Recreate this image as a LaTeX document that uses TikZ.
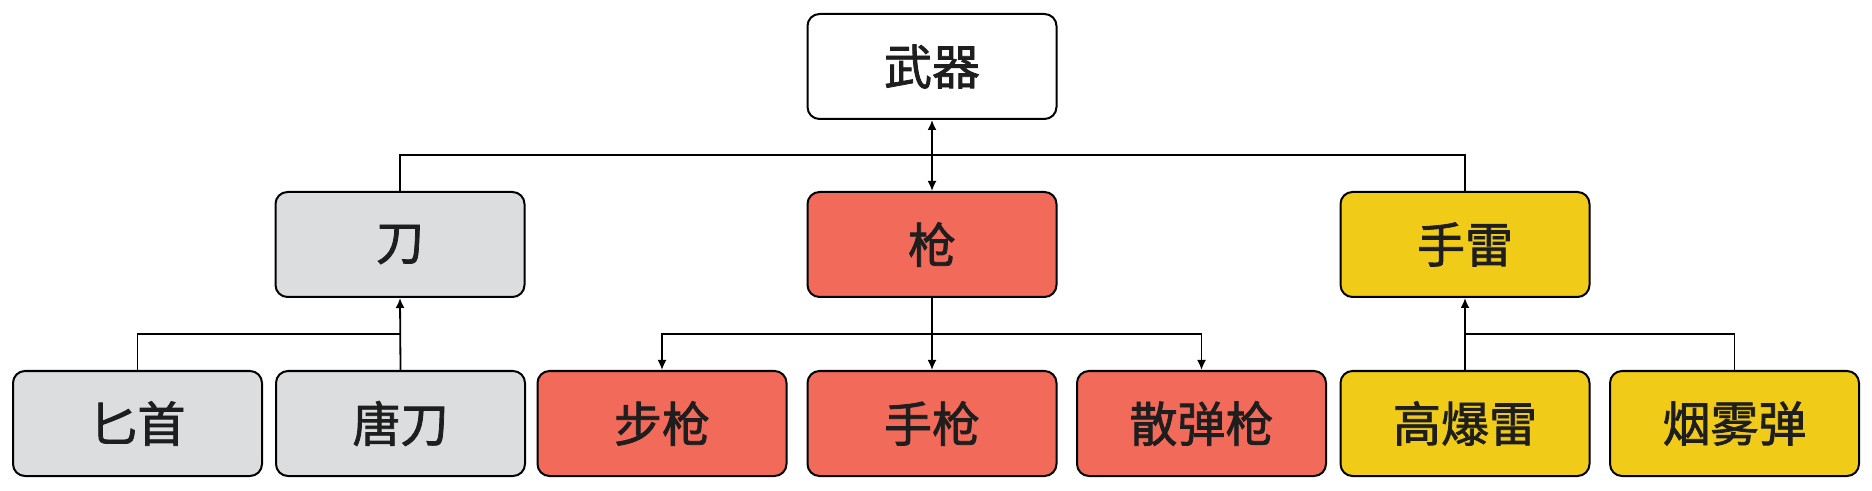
\documentclass[tikz,border=0pt]{standalone}
\usepackage{fontspec}
\newfontfamily\cjk[FakeBold=1.6]{Noto Sans CJK SC}
\usetikzlibrary{arrows.meta}
\definecolor{grayfill}{HTML}{DCDDDF}
\definecolor{redfill}{HTML}{F26A5A}
\definecolor{yellowfill}{HTML}{F0CB18}
\definecolor{txt}{HTML}{1E1E1E}
\begin{document}
\begin{tikzpicture}[x=0.5pt,y=-0.5pt,
  box/.style={draw=black, line width=1pt, rounded corners=6pt, minimum width=124.5pt, minimum height=52.5pt, inner sep=0pt, text=txt, font=\cjk\fontsize{24}{28}\selectfont},
  graybox/.style={box, fill=grayfill},
  redbox/.style={box, fill=redfill},
  yellowbox/.style={box, fill=yellowfill},
  whitebox/.style={box, fill=white},
  conn/.style={line width=0.9pt, draw=black},
  arr/.style={conn, -{Latex[length=5pt,width=4.5pt]}},
  darr/.style={conn, {Latex[length=5pt,width=4.5pt]}-{Latex[length=5pt,width=4.5pt]}}
]
\useasboundingbox (0,0) rectangle (1872,491);
\node[whitebox] (wq) at (932,66.5) {武器};
\node[graybox] (dao) at (400,244.5) {刀};
\node[redbox] (qiang) at (932,244.5) {枪};
\node[yellowbox] (shoulei) at (1465,244.5) {手雷};
\node[graybox] (bishou) at (137.5,423.5) {匕首};
\node[graybox] (tangdao) at (400.5,423.5) {唐刀};
\node[redbox] (buqiang) at (662,423.5) {步枪};
\node[redbox] (shouqiang) at (932,423.5) {手枪};
\node[redbox] (sandan) at (1201.5,423.5) {散弹枪};
\node[yellowbox] (gaobao) at (1465,423.5) {高爆雷};
\node[yellowbox] (yanwu) at (1734.5,423.5) {烟雾弹};
\coordinate (bus1) at (932,155);
\coordinate (bus2) at (400,334);
\coordinate (bus3) at (932,334);
\coordinate (bus4) at (1465,334);
% top level
\draw[darr] (wq.south) -- (qiang.north);
\draw[conn] (dao.north) |- (bus1) -| (shoulei.north);
% knife group
\draw[conn] (bishou.north) |- (bus2);
\draw[arr] (tangdao.north) -- (dao.south);
% gun group
\draw[conn] (qiang.south) -- (bus3);
\draw[arr] (bus3) -| (buqiang.north);
\draw[arr] (bus3) -| (sandan.north);
\draw[arr] (bus3) -- (shouqiang.north);
% grenade group
\draw[arr] (gaobao.north) -- (shoulei.south);
\draw[conn] (yanwu.north) |- (bus4);
\end{tikzpicture}
\end{document}
